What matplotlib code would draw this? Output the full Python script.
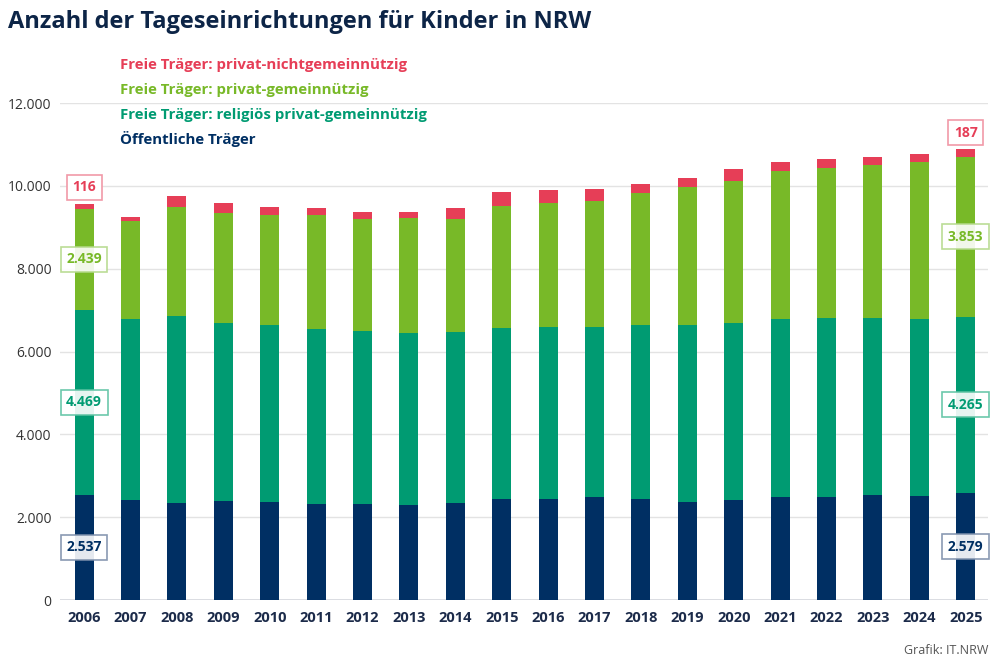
import matplotlib
matplotlib.use("Agg")
import matplotlib.pyplot as plt
from matplotlib.ticker import FuncFormatter
import numpy as np

plt.rcParams['font.family'] = ['Open Sans', 'DejaVu Sans']

years = ['2006', '2007', '2008', '2009', '2010', '2011', '2012', '2013', '2014', '2015',
         '2016', '2017', '2018', '2019', '2020', '2021', '2022', '2023', '2024', '2025']

# Öffentliche Träger
oeffentlich = [2537, 2410, 2345, 2385, 2368, 2330, 2330, 2295, 2345, 2450,
               2450, 2497, 2450, 2368, 2425, 2497, 2497, 2545, 2520, 2579]
# Freie Träger: religiös privat-gemeinnützig
religioes = [4469, 4377, 4515, 4306, 4267, 4224, 4168, 4146, 4120, 4125,
             4150, 4105, 4185, 4267, 4273, 4298, 4315, 4267, 4275, 4265]
# Freie Träger: privat-gemeinnützig
gemeinnuetzig = [2439, 2368, 2640, 2664, 2672, 2753, 2705, 2778, 2738, 2945,
                 2985, 3028, 3203, 3341, 3430, 3575, 3630, 3703, 3777, 3853]
# Freie Träger: privat-nichtgemeinnützig
nichtgemeinnuetzig = [116, 96, 258, 234, 178, 170, 169, 153, 258, 343,
                      305, 305, 210, 225, 275, 210, 210, 193, 209, 187]

series_names = ['Öffentliche Träger',
                'Freie Träger: religiös privat-gemeinnützig',
                'Freie Träger: privat-gemeinnützig',
                'Freie Träger: privat-nichtgemeinnützig']

c_navy = '#002f63'
c_teal = '#009b72'
c_green = '#78b928'
c_red = '#e63e57'
colors = [c_navy, c_teal, c_green, c_red]
edge_colors = ['#7d8fab', '#5cc2a2', '#b4d98a', '#f19aa8']


def de(v):
    return '{:,.0f}'.format(v).replace(',', '.')


fig = plt.figure(figsize=[9.99, 6.72], dpi=100)
ax = fig.add_axes([0.060, 0.1071, 0.929, 0.7396])

x = np.arange(len(years))
data = [np.array(oeffentlich), np.array(religioes), np.array(gemeinnuetzig), np.array(nichtgemeinnuetzig)]
bottom = np.zeros(len(years))
bottoms = []
for vals, col in zip(data, colors):
    ax.bar(x, vals, bottom=bottom, width=0.41, color=col, zorder=3)
    bottoms.append(bottom.copy())
    bottom = bottom + vals

ax.set_xlim(-0.52, 19.48)
ax.set_ylim(0, 12000)
ax.set_yticks([0, 2000, 4000, 6000, 8000, 10000, 12000])
ax.yaxis.set_major_formatter(FuncFormatter(lambda v, p: de(v)))
ax.grid(axis='y', color='#e3e3e3', linewidth=1, zorder=0)
ax.axhline(0, color='#d5d8de', linewidth=1.2, zorder=2)
for s in ax.spines.values():
    s.set_visible(False)
ax.tick_params(axis='both', length=0)
ax.tick_params(axis='y', labelsize=10, labelcolor='#333333', pad=6)
ax.set_xticks(x)
ax.set_xticklabels(years, fontsize=10.5, fontweight='bold', color='#1c2b4a')
ax.tick_params(axis='x', pad=8)

# labels for first and last year
for idx in [0, len(years) - 1]:
    for k in range(3):
        mid = bottoms[k][idx] + data[k][idx] / 2
        ax.text(x[idx], mid, de(data[k][idx]), ha='center', va='center', fontsize=10,
                fontweight='bold', color=colors[k], zorder=5,
                bbox=dict(boxstyle='square,pad=0.4', fc='white', ec=edge_colors[k], lw=1.2, alpha=0.9))
    top = bottom[idx]
    ax.annotate(de(data[3][idx]), xy=(x[idx], top), xytext=(0, 12), textcoords='offset points',
                ha='center', va='center', fontsize=10, fontweight='bold', color=c_red, zorder=5,
                bbox=dict(boxstyle='square,pad=0.4', fc='white', ec=edge_colors[3], lw=1.2))

# legend as coloured text
leg_y = [65, 90, 115, 139]
for name, col, yy in zip(series_names[::-1], colors[::-1], leg_y):
    fig.text(120 / 999, 1 - yy / 672, name, ha='left', va='center', fontsize=10.8,
             fontweight='bold', color=col)

fig.text(8 / 999, 1 - 22 / 672, 'Anzahl der Tageseinrichtungen für Kinder in NRW',
         ha='left', va='center', fontsize=17, fontweight='bold', color='#0d2547')
fig.text(988 / 999, 1 - 651 / 672, 'Grafik: IT.NRW', ha='right', va='center',
         fontsize=9, color='#555555')

plt.savefig('out.png', dpi=100)
